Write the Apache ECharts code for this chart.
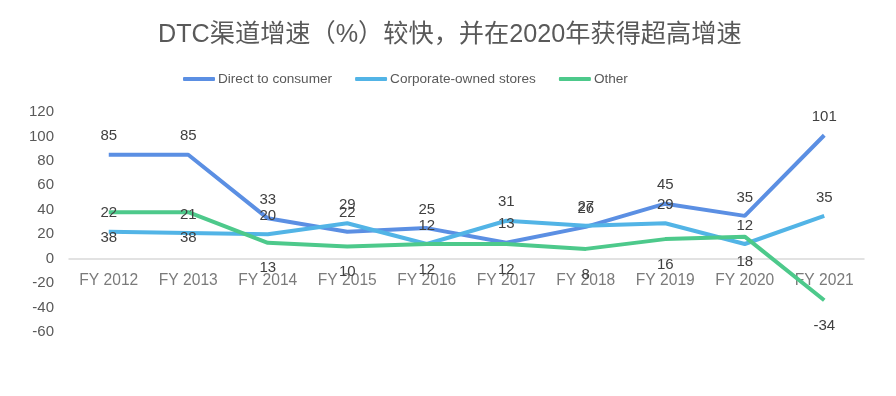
<!DOCTYPE html>
<html>
<head>
<meta charset="utf-8">
<script src="https://cdn.jsdelivr.net/npm/echarts@6/dist/echarts.min.js"></script>
<style>html,body{margin:0;padding:0;background:#fff}#c{width:896px;height:396px}</style>
</head>
<body>
<div id="c"></div>
<script>
const categories = ['FY 2012','FY 2013','FY 2014','FY 2015','FY 2016','FY 2017','FY 2018','FY 2019','FY 2020','FY 2021'];
const directToConsumer = [85, 85, 33, 22, 25, 13, 26, 45, 35, 101];
const corporateStores = [22, 21, 20, 29, 12, 31, 27, 29, 12, 35];
const other = [38, 38, 13, 10, 12, 12, 8, 16, 18, -34];
const seriesNames = ['Direct to consumer', 'Corporate-owned stores', 'Other'];
const titleText = 'DTC渠道增速（%）较快，并在2020年获得超高增速';

const font = '"Liberation Sans", Arial, sans-serif';
const colors = ['#5B8FE3', '#52B4E6', '#4DC98B'];
function mk(name, data, color, pos, dist) {
  return {
    name, type: 'line', data, showSymbol: true, symbol: 'circle', symbolSize: 0,
    lineStyle: { width: 4, color }, itemStyle: { color },
    label: { show: true, position: pos, distance: dist, color: '#404040', fontSize: 15, fontFamily: font },
    labelLayout: { hideOverlap: false },
    emphasis: { disabled: true }
  };
}
const chart = echarts.init(document.getElementById('c'));
chart.setOption({
  animation: false,
  title: { text: titleText, left: 153, top: 17,
    textStyle: { fontSize: 25.2, fontWeight: 'normal', color: '#595959', fontFamily: '"Liberation Sans", "Noto Sans CJK SC", sans-serif' } },
  legend: { top: 67, left: 178, itemWidth: 32, itemHeight: 4, itemGap: 23,
    icon: 'roundRect',
    textStyle: { fontSize: 13.6, color: '#595959', fontFamily: font, padding: [0,0,0,-2] },
    data: seriesNames },
  grid: { left: 69, right: 32, top: 112, bottom: 64 },
  xAxis: { type: 'category', data: categories, boundaryGap: true,
    axisLine: { onZero: true, lineStyle: { color: '#D9D9D9', width: 1.5 } },
    axisTick: { show: false },
    axisLabel: { show: false } },
  yAxis: { type: 'value', min: -60, max: 120, interval: 20,
    axisLine: { show: false }, axisTick: { show: false }, splitLine: { show: false },
    axisLabel: { color: '#595959', fontSize: 15, fontFamily: font, margin: 15 } },
  series: [
    mk(seriesNames[0], directToConsumer, colors[0], 'top', 11),
    mk(seriesNames[1], corporateStores, colors[1], 'top', 11),
    mk(seriesNames[2], other, colors[2], 'bottom', 18),
    { type: 'scatter', name: 'axisLabels', data: categories.map(c => [c, 0]),
      symbolSize: 0, silent: true, z: 1,
      label: { show: true, position: 'bottom', distance: 14, color: '#595959', fontSize: 15.6, fontFamily: font,
        formatter: p => p.value[0] },
      labelLayout: { hideOverlap: false } }
  ]
});
</script>
</body>
</html>
